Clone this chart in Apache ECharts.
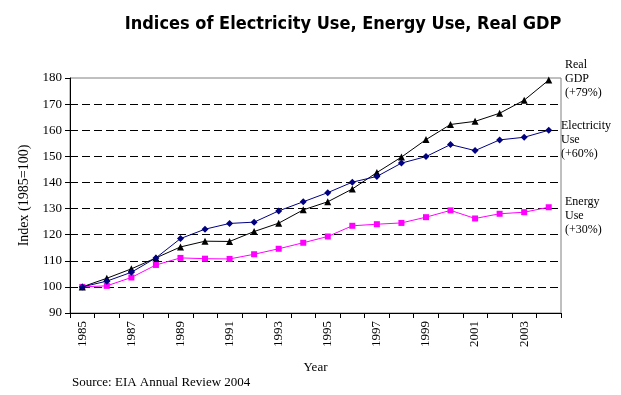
<!DOCTYPE html>
<html><head><meta charset="utf-8">
<script src="https://cdn.jsdelivr.net/npm/echarts@6/dist/echarts.min.js"></script>
<style>html,body{margin:0;padding:0;background:#fff}#c{width:621px;height:395px}</style>
</head><body><div id="c"></div>
<script>
const years = ['1985','1986','1987','1988','1989','1990','1991','1992','1993','1994','1995','1996','1997','1998','1999','2000','2001','2002','2003','2004'];
const realGDP = [100,103.3,106.9,111.1,115.3,117.5,117.4,121.2,124.4,129.5,132.6,137.5,143.8,149.7,156.4,162.2,163.4,166.5,171.5,179.2];
const electricity = [100,102.2,105.6,111.1,118.5,122.1,124.3,124.8,129.1,132.6,136.1,140.1,142.3,147.4,149.9,154.5,152.2,156.3,157.3,160.0];
const energy = [100,100.4,103.6,108.4,111.1,110.8,110.7,112.5,114.6,116.9,119.3,123.4,124.0,124.5,126.7,129.3,126.2,128.0,128.6,130.5];
const titleText = 'Indices of Electricity Use, Energy Use, Real GDP';
const yName = 'Index (1985=100)';
const xName = 'Year';
const sourceText = 'Source: EIA Annual Review 2004';
const notes = ['Real\nGDP\n(+79%)', 'Electricity\nUse\n(+60%)', 'Energy\nUse\n(+30%)'];

const serif = '"Liberation Serif","DejaVu Serif",serif';
const gridColors = ['#000','#000','#000','#000','#000','#000','#000','#000','#000','rgba(0,0,0,0)'];
const chart = echarts.init(document.getElementById('c'));
chart.setOption({
  animation: false,
  title: {text: titleText, left: 338, top: 10, textAlign: 'center',
    textStyle: {fontFamily: '"DejaVu Sans Condensed","Liberation Sans Narrow","Roboto Condensed",sans-serif', fontWeight: 'bold', fontSize: 18, color: '#000'}},
  grid: {left: 70, right: 60, top: 78, bottom: 82, show: true, borderColor: '#808080', borderWidth: 1},
  xAxis: {type: 'category', data: years, boundaryGap: true,
    name: xName, nameLocation: 'middle', nameGap: 48,
    nameTextStyle: {fontFamily: serif, fontSize: 13, color: '#000'},
    axisLine: {lineStyle: {color: '#000', width: 1}},
    axisTick: {show: true, interval: 0, length: 5, lineStyle: {color: '#000'}},
    axisLabel: {interval: 1, rotate: 90, fontFamily: serif, fontSize: 13, color: '#000', margin: 8},
    splitLine: {show: false}},
  yAxis: {type: 'value', min: 90, max: 180, interval: 10,
    name: yName, nameLocation: 'middle', nameRotate: 90, nameGap: 33,
    nameTextStyle: {fontFamily: serif, fontSize: 14, color: '#000'},
    axisLine: {show: true, lineStyle: {color: '#000', width: 1}},
    axisTick: {show: true, length: 5, lineStyle: {color: '#000'}},
    axisLabel: {fontFamily: serif, fontSize: 13, color: '#000', margin: 8},
    splitLine: {show: true, lineStyle: {color: gridColors, type: [8, 4], width: 1}}},
  series: [
    {name: 'Real GDP', type: 'line', data: realGDP, symbol: 'triangle', symbolSize: 7,
      lineStyle: {color: '#000', width: 1}, itemStyle: {color: '#000'}, z: 3},
    {name: 'Electricity Use', type: 'line', data: electricity, symbol: 'diamond', symbolSize: 7,
      lineStyle: {color: '#000080', width: 1}, itemStyle: {color: '#000080'}, z: 4},
    {name: 'Energy Use', type: 'line', data: energy, symbol: 'rect', symbolSize: 6,
      lineStyle: {color: '#FF00FF', width: 1}, itemStyle: {color: '#FF00FF'}, z: 2}
  ],
  graphic: [
    {type: 'text', left: 565, top: 58, style: {text: notes[0], font: '12px ' + serif, fill: '#000', lineHeight: 14}},
    {type: 'text', left: 561, top: 119, style: {text: notes[1], font: '12px ' + serif, fill: '#000', lineHeight: 14}},
    {type: 'text', left: 565, top: 195, style: {text: notes[2], font: '12px ' + serif, fill: '#000', lineHeight: 14}},
    {type: 'text', left: 72, top: 376, style: {text: sourceText, font: '13px ' + serif, fill: '#000'}}
  ]
});
</script></body></html>
